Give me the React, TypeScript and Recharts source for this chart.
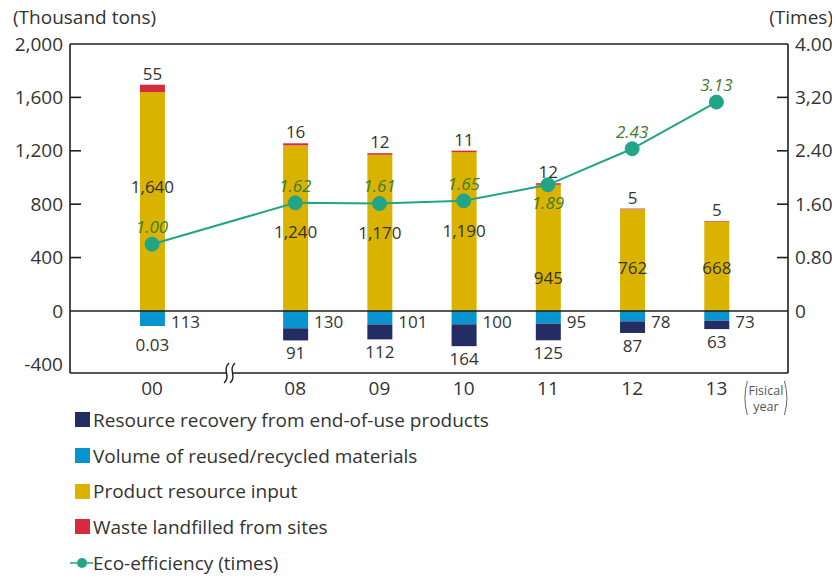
import React from 'react';
import { ComposedChart, Bar, Line, XAxis, YAxis, ReferenceLine, LabelList } from 'recharts';

// ---------- data ----------
const years = ['00', '08', '09', '10', '11', '12', '13'];
const productResourceInput = [1640, 1240, 1170, 1190, 945, 762, 668];
const wasteLandfilled = [55, 16, 12, 11, 12, 5, 5];
const reusedRecycled = [113, 130, 101, 100, 95, 78, 73];
const resourceRecovery = [0.03, 91, 112, 164, 125, 87, 63];
const ecoEfficiency = [1.0, 1.62, 1.61, 1.65, 1.89, 2.43, 3.13];
const leftTicks = [-400, 0, 400, 800, 1200, 1600, 2000];
const rightTicks = [0, 0.8, 1.6, 2.4, 3.2, 4];
const rightTickLabels = ['0', '0.80', '1.60', '2.40', '3,20', '4.00'];

// ---------- layout / style constants ----------
const AXIS_BREAK_GAP = 0.7; // extra slot width between 00 and 08 (broken axis)
const BREAK_MARK_AT = 0.92;
const LEFT_DOMAIN: [number, number] = [-465, 2000];
const RIGHT_DOMAIN: [number, number] = [-0.93, 4];
const X_DOMAIN: [number, number] = [-0.974, 7.55];
const yellowLabelDy = [-14, 4, 0, 0, 30, 8, 2];

const FONT = "'Open Sans', 'Noto Sans', sans-serif";
const TEXT = '#333333';
const NAVY = '#232d64';
const BLUE = '#0794cf';
const YELLOW = '#d9b300';
const RED = '#d62a3f';
const TEAL = '#22a587';
const GREEN_TEXT = '#3f7d2e';
const AXIS = '#1e1e1e';
const FS = 17; // data labels
const AFS = 19; // axis text, titles, legend

const pos = years.map((_, i) => i + (i > 0 ? AXIS_BREAK_GAP : 0));
const data = years.map((y, i) => ({
  year: y,
  pos: pos[i],
  product: productResourceInput[i],
  waste: wasteLandfilled[i],
  reused: -reusedRecycled[i],
  recovery: -resourceRecovery[i],
  eco: ecoEfficiency[i],
}));
const xTicks = [pos[0], BREAK_MARK_AT, ...pos.slice(1)];

const fmt = (v: number) => (v < 1 ? v.toFixed(2) : v.toLocaleString('en-US'));

const box = (p: any) => {
  const vb = p.viewBox && typeof p.viewBox.x === 'number' ? p.viewBox : p;
  const x = Number(vb.x), y = Number(vb.y), w = Number(vb.width || 0), h = Number(vb.height || 0);
  return { x, w, top: Math.min(y, y + h), bottom: Math.max(y, y + h) };
};

const XTick = (props: any) => {
  const { x, y, payload } = props;
  const v = payload.value;
  if (Math.abs(v - BREAK_MARK_AT) < 1e-6) {
    const curve = (ox: number) =>
      `M${x + ox + 2.5},${y - 10} C${x + ox - 5},${y - 3} ${x + ox + 5},${y + 3} ${x + ox - 2.5},${y + 10}`;
    return (
      <g>
        <rect x={x - 3} y={y - 2} width={6} height={4} fill="#fff" />
        <path d={curve(-3)} fill="none" stroke={AXIS} strokeWidth={1.4} />
        <path d={curve(3)} fill="none" stroke={AXIS} strokeWidth={1.4} />
      </g>
    );
  }
  const idx = pos.findIndex((p) => Math.abs(p - v) < 1e-6);
  const isLast = idx === pos.length - 1;
  return (
    <g>
      <text x={x} y={y + 15} dy="0.35em" textAnchor="middle" fill={TEXT} fontSize={AFS} fontFamily={FONT}>
        {years[idx]}
      </text>
      {isLast && (
        <g>
          <path d={`M${x + 31},${y + 8} Q${x + 26},${y + 25} ${x + 31},${y + 42}`} fill="none" stroke="#666" strokeWidth={1} />
          <path d={`M${x + 68},${y + 8} Q${x + 73},${y + 25} ${x + 68},${y + 42}`} fill="none" stroke="#666" strokeWidth={1} />
          <text x={x + 49.5} y={y + 18} dy="0.35em" textAnchor="middle" fill="#555" fontSize={12.5} fontFamily={FONT}>
            Fisical
          </text>
          <text x={x + 49.5} y={y + 34} dy="0.35em" textAnchor="middle" fill="#555" fontSize={12.5} fontFamily={FONT}>
            year
          </text>
        </g>
      )}
    </g>
  );
};

const LeftTick = (props: any) => {
  const { x, y, payload } = props;
  const v = payload.value;
  const showLine = v > 0 && v < 2000;
  return (
    <g>
      {showLine && <line x1={x + 7} x2={x + 18} y1={y} y2={y} stroke={AXIS} strokeWidth={1.6} />}
      <text x={x} y={y} dy="0.35em" textAnchor="end" fill={TEXT} fontSize={AFS} fontFamily={FONT}>
        {v.toLocaleString('en-US')}
      </text>
    </g>
  );
};

const RightTick = (props: any) => {
  const { x, y, payload, index } = props;
  const v = payload.value;
  const i = rightTicks.findIndex((t) => Math.abs(t - v) < 1e-6);
  const showLine = v > 0 && v < 4;
  return (
    <g>
      {showLine && <line x1={x - 7} x2={x - 18} y1={y} y2={y} stroke={AXIS} strokeWidth={1.6} />}
      <text x={x} y={y} dy="0.35em" textAnchor="start" fill={TEXT} fontSize={AFS} fontFamily={FONT}>
        {rightTickLabels[i >= 0 ? i : index]}
      </text>
    </g>
  );
};

const labelText = (x: number, y: number, s: string, anchor: any = 'middle') => (
  <text x={x} y={y} dy="0.35em" textAnchor={anchor} fill={TEXT} fontSize={FS} fontFamily={FONT}>
    {s}
  </text>
);

const ProductLabel = (p: any) => {
  const b = box(p);
  const i = p.index;
  return labelText(b.x + b.w / 2, (b.top + b.bottom) / 2 + (yellowLabelDy[i] || 0), fmt(productResourceInput[i]));
};
const WasteLabel = (p: any) => {
  const b = box(p);
  return labelText(b.x + b.w / 2, b.top - 11, fmt(wasteLandfilled[p.index]));
};
const ReusedLabel = (p: any) => {
  const b = box(p);
  return labelText(b.x + b.w + 6, b.top + 11, fmt(reusedRecycled[p.index]), 'start');
};
const RecoveryLabel = (p: any) => {
  const b = box(p);
  return labelText(b.x + b.w / 2, b.bottom + (p.index === 0 ? 19 : 13), fmt(resourceRecovery[p.index]));
};
const EcoLabel = (p: any) => {
  const x = Number(p.x ?? p.viewBox?.x);
  const y = Number(p.y ?? p.viewBox?.y);
  const below = p.index === 4;
  return (
    <text
      x={x}
      y={below ? y + 18 : y - 17}
      dy="0.35em"
      textAnchor="middle"
      fill={GREEN_TEXT}
      fontSize={FS}
      fontStyle="italic"
      fontFamily={FONT}
    >
      {ecoEfficiency[p.index].toFixed(2)}
    </text>
  );
};

const legendItems = [
  { label: 'Resource recovery from end-of-use products', color: NAVY, type: 'square' },
  { label: 'Volume of reused/recycled materials', color: BLUE, type: 'square' },
  { label: 'Product resource input', color: YELLOW, type: 'square' },
  { label: 'Waste landfilled from sites', color: RED, type: 'square' },
  { label: 'Eco-efficiency (times)', color: TEAL, type: 'line' },
];

export default function App() {
  return (
    <div style={{ position: 'relative', width: 832, height: 573, fontFamily: FONT, color: TEXT }}>
      <div style={{ position: 'absolute', left: 5, top: -1, fontSize: AFS, lineHeight: '20px', whiteSpace: 'nowrap' }}>
        (Thousand tons)
      </div>
      <div style={{ position: 'absolute', right: 7, top: -1, fontSize: AFS, lineHeight: '20px', whiteSpace: 'nowrap' }}>
        (Times)
      </div>
      <div style={{ position: 'absolute', left: 0, top: 0 }}>
        <ComposedChart
          width={832}
          height={420}
          data={data}
          stackOffset="sign"
          margin={{ top: 36, right: 0, bottom: 0, left: 0 }}
        >
          <XAxis
            xAxisId="x"
            dataKey="pos"
            type="number"
            domain={X_DOMAIN}
            ticks={xTicks}
            interval={0}
            allowDataOverflow
            height={55}
            tickSize={0}
            tickMargin={0}
            tickLine={false}
            axisLine={{ stroke: AXIS, strokeWidth: 1.6 }}
            tick={<XTick />}
          />
          <YAxis
            yAxisId="left"
            orientation="left"
            width={62}
            domain={LEFT_DOMAIN}
            ticks={leftTicks}
            interval={0}
            allowDataOverflow
            tickSize={0}
            tickMargin={7}
            tickLine={false}
            axisLine={{ stroke: AXIS, strokeWidth: 1.6 }}
            tick={<LeftTick />}
          />
          <YAxis
            yAxisId="right"
            orientation="right"
            width={52}
            domain={RIGHT_DOMAIN}
            ticks={rightTicks}
            interval={0}
            allowDataOverflow
            tickSize={0}
            tickMargin={7}
            tickLine={false}
            axisLine={{ stroke: AXIS, strokeWidth: 1.6 }}
            tick={<RightTick />}
          />
          <ReferenceLine yAxisId="left" xAxisId="x" y={2000} stroke={AXIS} strokeWidth={1.6} />
          <Bar xAxisId="x" yAxisId="left" dataKey="product" stackId="s" fill={YELLOW} barSize={25} isAnimationActive={false}>
            <LabelList dataKey="product" content={<ProductLabel />} />
          </Bar>
          <Bar xAxisId="x" yAxisId="left" dataKey="waste" stackId="s" fill={RED} barSize={25} isAnimationActive={false}>
            <LabelList dataKey="waste" content={<WasteLabel />} />
          </Bar>
          <Bar xAxisId="x" yAxisId="left" dataKey="reused" stackId="s" fill={BLUE} barSize={25} isAnimationActive={false}>
            <LabelList dataKey="reused" content={<ReusedLabel />} />
          </Bar>
          <Bar xAxisId="x" yAxisId="left" dataKey="recovery" stackId="s" fill={NAVY} barSize={25} isAnimationActive={false}>
            <LabelList dataKey="recovery" content={<RecoveryLabel />} />
          </Bar>
          <ReferenceLine yAxisId="left" xAxisId="x" y={0} stroke={AXIS} strokeWidth={1.6} />
          <Line
            xAxisId="x"
            yAxisId="right"
            dataKey="eco"
            stroke={TEAL}
            strokeWidth={2}
            dot={{ r: 7, fill: TEAL, stroke: TEAL, strokeWidth: 1 }}
            isAnimationActive={false}
          >
            <LabelList dataKey="eco" content={<EcoLabel />} />
          </Line>
        </ComposedChart>
      </div>
      <div style={{ position: 'absolute', left: 62, top: 394, display: 'flex', flexDirection: 'column' }}>
        {legendItems.map((it) => (
          <div
            key={it.label}
            style={{ height: 35.7, display: 'flex', alignItems: 'center', fontSize: AFS, whiteSpace: 'nowrap' }}
          >
            {it.type === 'square' ? (
              <span style={{ display: 'inline-block', width: 15, height: 15, background: it.color, marginLeft: 5, marginRight: 3 }} />
            ) : (
              <svg width={23} height={14} style={{ marginRight: 0 }}>
                <line x1={0} x2={23} y1={7} y2={7} stroke={it.color} strokeWidth={1.5} />
                <circle cx={12} cy={7} r={5} fill={it.color} />
              </svg>
            )}
            <span>{it.label}</span>
          </div>
        ))}
      </div>
    </div>
  );
}
